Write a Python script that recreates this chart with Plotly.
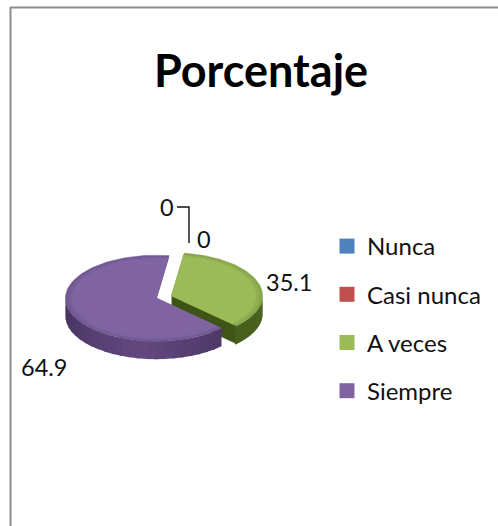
import numpy as np
import plotly.graph_objects as go

categories = ["Nunca", "Casi nunca", "A veces", "Siempre"]
values = [0, 0, 35.1, 64.9]
colors = ["#4F81BD", "#C0504D", "#9BBB59", "#8064A2"]
side_light = ["#3F6797", "#9A403E", "#5F7A2A", "#64497F"]
side_dark = ["#2C4A6E", "#6E2D2B", "#3F5518", "#3B2B55"]

label_xy = [(167, 207), (204, 239), (289, 282), (44, 367)]

W, H = 498, 526
FONT = "Lato, Carlito, Calibri, sans-serif"
O = (164.0, 297.0)
A, B, DEPTH, EXPLODE, ROT = 91.0, 43.0, 18.0, 0.088, 8.0


def hex2rgb(h):
    return np.array([int(h[i:i + 2], 16) for i in (1, 3, 5)], float)


def mix(a, b, t):
    c = hex2rgb(a) * (1 - t) + hex2rgb(b) * t
    return "rgb(%d,%d,%d)" % tuple(c)


def rim(c, deg, scale=1.0, dy=0.0):
    r = np.radians(deg)
    return c[0] + scale * A * np.sin(r), c[1] - scale * B * np.cos(r) + dy


def poly(xs, ys, color, lw=0.5):
    return go.Scatter(x=list(xs), y=list(ys), mode="lines", fill="toself", fillcolor=color,
                      line=dict(color=color, width=lw), showlegend=False, hoverinfo="skip")


fig = go.Figure()
total = sum(values)
start = ROT
slices = []
for v, col, sl, sd in zip(values, colors, side_light, side_dark):
    sweep = v / total * 360
    slices.append((start, start + sweep, col, sl, sd, v))
    start += sweep

for a0, a1, col, sl, sd, v in slices:
    if v == 0:
        continue
    mid = np.radians((a0 + a1) / 2)
    c = (O[0] + EXPLODE * A * np.sin(mid), O[1] - EXPLODE * B * np.cos(mid))
    # radial cut face at the end of the sweep, when it faces the viewer
    if 90 < a1 < 270:
        px, py = rim(c, a1)
        fig.add_trace(poly([c[0], px, px, c[0]], [c[1], py, py + DEPTH, c[1] + DEPTH], sd))
    # outer wall, shaded in narrow bands
    lo, hi = max(a0, 90), min(a1, 270)
    if hi > lo:
        edges = np.linspace(lo, hi, 25)
        for e0, e1 in zip(edges[:-1], edges[1:]):
            t = abs(((e0 + e1) / 2 - 190)) / 100
            t = 1 - min(t, 1) if col == colors[3] else 0.3
            arc = np.linspace(e0, e1 + 1.5, 4)
            x1, y1 = rim(c, arc)
            x2, y2 = rim(c, arc[::-1], dy=DEPTH)
            fig.add_trace(poly(np.r_[x1, x2], np.r_[y1, y2], mix(sd, sl, t), lw=0))
    # top face with a slightly darker rim
    for scale, shade in ((1.0, 0.22), (0.97, 0.12), (0.93, 0.0)):
        arc = np.linspace(a0, a1, 90)
        x, y = rim(c, arc, scale)
        fig.add_trace(poly(np.r_[c[0], x, c[0]], np.r_[c[1], y, c[1]], mix(col, sd, shade)))

# leader line for the first zero-valued label
fig.add_trace(go.Scatter(x=[177, 189, 189], y=[207, 207, 243], mode="lines",
                         line=dict(color="#111111", width=1.4), showlegend=False, hoverinfo="skip"))

# legend entries
for name, col in zip(categories, colors):
    fig.add_trace(go.Scatter(x=[None], y=[None], mode="markers", name=name, legendgroup=name,
                             marker=dict(symbol="square", size=15, color=col, line=dict(width=0))))

annotations = [
    dict(x=x, y=y, text=("%g" % v), showarrow=False, xanchor="center", yanchor="middle",
         font=dict(family=FONT, size=23.5, color="#111111"))
    for (x, y), v in zip(label_xy, values)
]

frame = dict(color="#8C8C8C", width=2)
shapes = [
    dict(type="line", x0=10.5, x1=10.5, y0=7, y1=H, line=frame),
    dict(type="line", x0=10, x1=W, y0=7.5, y1=7.5, line=frame),
]

fig.update_layout(
    width=W, height=H, autosize=False,
    margin=dict(l=0, r=0, t=0, b=0),
    paper_bgcolor="white", plot_bgcolor="white",
    xaxis=dict(range=[0, W], visible=False, fixedrange=True),
    yaxis=dict(range=[H, 0], visible=False, fixedrange=True),
    title=dict(text="<b>Porcentaje</b>", x=261 / W, xanchor="center", y=1 - 71 / H, yanchor="middle",
               font=dict(family=FONT, size=45, color="#000000")),
    legend=dict(x=338 / W, xanchor="left", y=1 - 224 / H, yanchor="top",
                bgcolor="rgba(0,0,0,0)", borderwidth=0, itemwidth=30, indentation=-11,
                tracegroupgap=14, font=dict(family=FONT, size=24, color="#111111")),
    annotations=annotations, shapes=shapes,
)

fig.write_html("out.html", config={"displayModeBar": False},
               post_script="document.body.style.margin='0';document.body.style.overflow='hidden';")
